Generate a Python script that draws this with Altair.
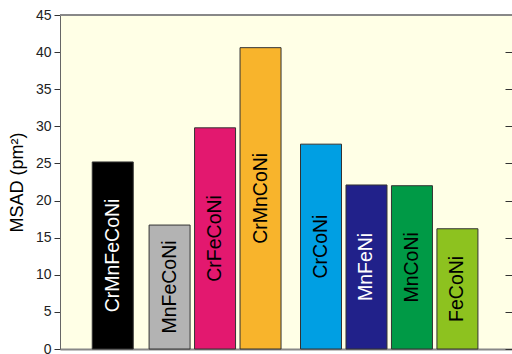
import altair as alt
import pandas as pd

# Mean-square atomic displacement for each alloy
alloys = ["CrMnFeCoNi", "MnFeCoNi", "CrFeCoNi", "CrMnCoNi",
          "CrCoNi", "MnFeNi", "MnCoNi", "FeCoNi"]
msad = [25.2, 16.7, 29.8, 40.6, 27.6, 22.1, 22.0, 16.2]
# horizontal slot of each bar (quinary group, then ternary group)
slot = [1.05, 2.3, 3.3, 4.3, 5.63, 6.63, 7.63, 8.63]
fill = ["#000000", "#b3b3b3", "#e3186f", "#f8b42c",
        "#009fe3", "#21218a", "#009a46", "#8dc21f"]
ink = ["white", "black", "black", "black", "black", "white", "black", "black"]

df = pd.DataFrame(dict(alloy=alloys, msad=msad, slot=slot, fill=fill, ink=ink))
df["mid"] = df["msad"] / 2

FONT = "Liberation Sans"
W, H = 452, 334
xs = alt.Scale(domain=[0, 9.72], nice=False, zero=False)
ys = alt.Scale(domain=[0, 45], nice=False)
ticks = list(range(0, 46, 5))

bars = alt.Chart(df).mark_bar(size=41, stroke="#333333", strokeWidth=1).encode(
    x=alt.X("slot:Q", scale=xs,
            axis=alt.Axis(title=None, labels=False, ticks=False, grid=False,
                          domainColor="#888888", domainWidth=2)),
    y=alt.Y("msad:Q", scale=ys,
            axis=alt.Axis(title="MSAD (pm²)", values=ticks, grid=False,
                          labelFontSize=14, labelColor="#222222", labelFont=FONT,
                          labelPadding=3, tickSize=6, tickColor="#333333",
                          domainColor="#666666", titleFont=FONT, titleFontSize=18,
                          titleFontWeight="normal", titleColor="#000000",
                          titlePadding=9)),
    fill=alt.Fill("fill:N", scale=None),
)

labels = alt.Chart(df).mark_text(angle=270, fontSize=19.5, font=FONT,
                                 align="center", baseline="middle").encode(
    x=alt.X("slot:Q", scale=xs),
    y=alt.Y("mid:Q", scale=ys),
    text="alloy:N",
    color=alt.Color("ink:N", scale=None),
)

top_edge = alt.Chart(df).mark_rule(color="#888888", strokeWidth=2).encode(
    x=alt.value(0), x2=alt.value(W), y=alt.value(0)
)

right_ticks = alt.Chart(df).mark_point(opacity=0).encode(
    y=alt.Y("msad:Q", scale=ys,
            axis=alt.Axis(orient="right", offset=-7, tickSize=7, labels=False,
                          domain=False, grid=False, title=None, values=ticks,
                          tickColor="#333333"))
)

chart = alt.layer(bars, labels, top_edge, right_ticks).resolve_scale(
    y="independent"
).properties(
    width=W, height=H,
    autosize=alt.AutoSizeParams(type="none"),
    padding={"left": 60, "top": 15, "right": 0, "bottom": 5},
    background="white",
).configure_view(stroke=None, fill="#ffffe6")

chart.save("out.html", embed_options={"renderer": "svg", "actions": False})
